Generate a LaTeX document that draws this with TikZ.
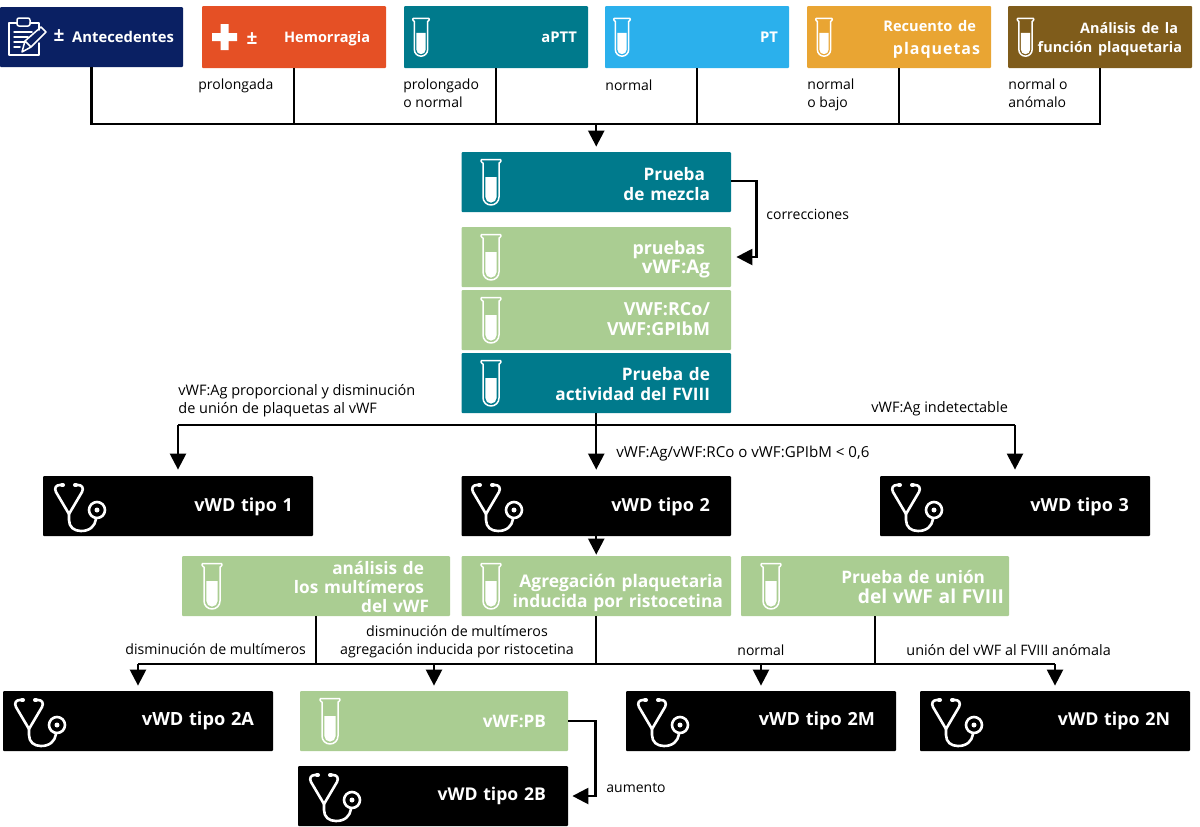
\documentclass[tikz,border=0pt]{standalone}
\usepackage{fontspec}
\setmainfont{Open Sans}
\usetikzlibrary{arrows.meta,calc}
\definecolor{cnavy}{HTML}{0A2063}
\definecolor{corange}{HTML}{E55025}
\definecolor{cteal}{HTML}{007A8C}
\definecolor{cblue}{HTML}{2BB0EC}
\definecolor{camber}{HTML}{E9A533}
\definecolor{cbrown}{HTML}{7F5C1B}
\definecolor{cgreen}{HTML}{AACD92}
\tikzset{
  x=0.5pt,y=-0.5pt,
  boxn/.style={rounded corners=0.5pt,text=white,align=right,inner ysep=0pt,font=\fontsize{8.6}{9.6}\selectfont\bfseries},
  lbl/.style={inner sep=0pt,text=black,align=left,font=\fontsize{7}{9}\selectfont},
  lblc/.style={inner sep=0pt,text=black,align=center,font=\fontsize{7.12}{9}\selectfont},
  conn/.style={draw=black,line width=1.2pt},
  arr/.style={conn,-{Triangle[width=8pt,length=8pt]}},
  icon/.style={draw=white,line width=0.75pt,line cap=round,line join=round},
}
\newcommand\fs[1]{\fontsize{#1}{9.6}\selectfont}
\newcommand\dn[1]{\rule{0pt}{\dimexpr0.76em+#1pt\relax}}
\newcommand\tr[1]{\rule{#1pt}{0pt}}
\newcommand\bx[8]{% name x0 y0 x1 y1 fill pad text
  \pgfmathsetlengthmacro\bw{(#4-#2)*0.5pt}
  \pgfmathsetlengthmacro\bh{(#5-#3)*0.5pt}
  \pgfmathsetlengthmacro\bp{#7*0.5pt}
  \pgfmathsetlengthmacro\tw{\bw-2*\bp}
  \node[boxn,fill=#6,inner xsep=\bp,text width=\tw,minimum height=\bh] (#1) at ({(#2+#4)/2},{(#3+#5)/2}) {#8};
}
\newcommand\tube[3]{% x y scale
  \begin{scope}[shift={(#1,#2)},scale=#3]
    \draw[icon] (-8,4) -- (-9,3.5) -- (-10,2) -- (-9.5,0.5) -- (9.5,0.5) -- (10,2) -- (9,3.5) -- (8,4)
      -- (8,38) arc[start angle=0,end angle=-180,x radius=8,y radius=-8] -- (-8,4) -- cycle;
    \fill[white] (-5.6,18) -- (5.6,18) -- (5.6,38) arc[start angle=0,end angle=-180,x radius=5.6,y radius=-5.6] -- cycle;
  \end{scope}
}
\newcommand\steth[2]{% box top-left
  \begin{scope}[shift={(#1,#2)}]
    \draw[icon,line width=1.3pt] (20,9) -- (17,9) .. controls (13,9) and (11,12) .. (13,16) -- (26,38)
      -- (39,16) .. controls (41,12) and (39,9) .. (35,9) -- (32,9);
    \draw[icon,line width=2pt] (19,9) -- (20,9) (32,9) -- (33,9);
    \draw[icon,line width=1.3pt] (26,38) -- (26,44) .. controls (26,51) and (31,55) .. (38,55)
      .. controls (47,55) and (52,50) .. (53,43);
    \draw[icon,line width=1.3pt] (54,34) circle[radius=8];
    \fill[white] (54,34) circle[radius=2.5];
  \end{scope}
}
\begin{document}
\begin{tikzpicture}
\useasboundingbox (0,0) rectangle (1200,826);
% top row
\bx{ante}{0}{7}{183}{67}{cnavy}{9}{\fs{7.4}Antecedentes}
\bx{hemo}{202}{6}{386}{68}{corange}{16}{\fs{7.25}\dn{2}Hemorragia}
\bx{aptt}{404}{6}{588}{68}{cteal}{11}{\fs{7.4}aPTT}
\bx{pt}{605}{6}{789}{68}{cblue}{11}{\fs{7.4}PT}
\bx{rec}{807}{6}{991}{68}{camber}{11}{\fs{7.3}\dn{2.5}Recuento de\tr{2}\\[2.2pt]\fs{8}\addfontfeature{LetterSpace=6}plaquetas}
\bx{ana}{1008}{6}{1192}{68}{cbrown}{10}{\fs{7.2}\dn{2}Análisis de la\tr{2}\\función plaquetaria}
% centre column
\bx{mez}{461.5}{152}{731}{212}{cteal}{21}{\dn{2}Prueba\tr{2.5}\\de mezcla}
\bx{ag}{461.5}{227}{731}{287}{cgreen}{21}{\fs{8.9}\dn{2.5}pruebas\tr{2.5}\\\fs{9.4}vWF:Ag}
\bx{rco}{461.5}{290}{731}{350}{cgreen}{21}{\fs{9}VWF:RCo/\\VWF:GPIbM\rule[-1pt]{0pt}{1pt}}
\bx{fv}{461.5}{353}{731}{413}{cteal}{21}{\dn{1}Prueba de\\actividad del FVIII}
% vWD row
\bx{v1}{43}{476}{313}{536}{black}{20}{\fs{9}\dn{1}vWD tipo 1}
\bx{v2}{461.5}{476}{731}{536}{black}{21}{\fs{9}\dn{1}vWD tipo 2}
\bx{v3}{880}{476}{1150}{536}{black}{21}{\fs{9}\dn{1}vWD tipo 3}
% tests row
\bx{mul}{182}{556}{450}{616}{cgreen}{21}{\dn{1}análisis de\tr{2.5}\\[-0.3pt]los multímeros\tr{2.5}\\[-0.3pt]del vWF}
\bx{agr}{461.5}{556}{731}{616}{cgreen}{8}{\fs{8.7}\dn{7}Agregación plaquetaria\\inducida por ristocetina}
\bx{uni}{741}{556}{1009}{616}{cgreen}{5}{\fs{8.6}\dn{1}Prueba de unión\tr{9.5}\\\fs{9.6}del vWF al FVIII}
% last row
\bx{a2}{3}{691}{273}{751}{black}{19}{\fs{9.1}vWD tipo 2A}
\bx{pb}{300}{691}{568}{751}{cgreen}{22}{vWF:PB}
\bx{m2}{626}{691}{896}{751}{black}{21}{\fs{9.05}vWD tipo 2M}
\bx{n2}{920}{691}{1190}{751}{black}{20}{\fs{8.9}vWD tipo 2N}
\bx{b2}{298}{766}{568}{826}{black}{22}{\fs{8.8}vWD tipo 2B}
% icons
\tube{421}{18}{0.83}\tube{622}{18}{0.83}\tube{824}{18}{0.83}\tube{1025.5}{18}{0.83}
\tube{491}{159}{1}\tube{491}{234}{1}\tube{491}{297}{1}\tube{491}{360}{1}
\tube{212}{563}{1}\tube{491}{563}{1}\tube{771}{563}{1}\tube{330}{698}{1}
\steth{43}{476}\steth{460}{476}\steth{880}{476}\steth{3}{691}\steth{626}{691}\steth{920}{691}\steth{298}{766}
% clipboard icon
\draw[icon] (39,30) -- (39,23) -- (30,23) (17,23) -- (9,23) -- (9,55) -- (39,55) -- (39,43);
\draw[icon,rounded corners=1pt] (17,18) rectangle (30,26);
\draw[icon] (14,32) -- (32,32) (14,37) -- (28,37) (14,42) -- (24,42) (14,47) -- (20,47);
\draw[icon] (22,52) -- (25,41) -- (41,27) -- (46,32) -- (31,47) -- cycle (25,41) -- (31,47);
% plus icon
\fill[white] (220.5,24) rectangle (228.5,50) (212,33) rectangle (237,41);
\node[inner sep=0pt,text=white,font=\fontsize{9.5}{10}\selectfont\bfseries] (pm1) at (59,35.5) {±};
\node[inner sep=0pt,text=white,font=\fontsize{9.5}{10}\selectfont\bfseries] (pm2) at (252,38.5) {±};
% top connectors
\coordinate (bus) at (596.25,124);
\draw[conn] (ante.south) |- (bus);
\draw[conn] (hemo.south) |- (bus);
\draw[conn] (aptt.south) |- (bus);
\draw[conn] (pt.south) |- (bus);
\draw[conn] (rec.south) |- (bus);
\draw[conn] (ana.south) |- (bus);
\draw[arr,shorten >=2.5pt] (bus) -- (mez.north);
% corrections
\draw[arr,shorten >=2.5pt] ([yshift=0.5pt]mez.east) -- ++(25,0) |- (ag.east);
% activity to vWD
\coordinate (bus2) at (596.25,425);
\draw[conn] (fv.south) -- (bus2);
\draw[conn] (v1.north |- bus2) -- (v3.north |- bus2);
\draw[arr,shorten >=3pt] (bus2) -- (v2.north);
\draw[arr,shorten >=3pt] (v1.north |- bus2) -- (v1.north);
\draw[arr,shorten >=3pt] (v3.north |- bus2) -- (v3.north);
\draw[arr,shorten >=0.5pt] (v2.south) -- (agr.north);
% lower bus
\coordinate (bus3) at (596.25,664);
\draw[conn] (mul.south) -- (mul.south |- bus3);
\draw[conn] (agr.south) -- (bus3);
\draw[conn] (uni.south) -- (uni.south |- bus3);
\draw[conn] (a2.north |- bus3) -- (n2.north |- bus3);
\draw[arr,shorten >=2.5pt] (a2.north |- bus3) -- (a2.north);
\draw[arr,shorten >=2.5pt] (pb.north |- bus3) -- (pb.north);
\draw[arr,shorten >=2.5pt] (m2.north |- bus3) -- (m2.north);
\draw[arr,shorten >=2.5pt] (n2.north |- bus3) -- (n2.north);
\draw[arr,shorten >=2pt] (pb.east) -- ++(27,0) |- (b2.east);
% labels
\node[lbl,anchor=west] (l1) at (198,86) {prolongada};
\node[lbl,anchor=north west] (l2) at (403,78) {prolongado\\o normal};
\node[lbl,anchor=west] (l3) at (605,85) {normal};
\node[lbl,anchor=north west] (l4) at (807,78) {normal\\o bajo};
\node[lbl,anchor=north west] (l5) at (1008,78) {normal o\\anómalo};
\node[lbl,anchor=west] (l6) at (766,214) {correcciones};
\node[lbl,anchor=north west,font=\fontsize{7.25}{9}\selectfont] (l7) at (178,384) {vWF:Ag proporcional y disminución\\de unión de plaquetas al vWF};
\node[lbl,anchor=west,font=\fontsize{7.25}{9}\selectfont] (l8) at (871,409) {vWF:Ag indetectable};
\node[lbl,anchor=west,font=\fontsize{7.55}{9}\selectfont] (l9) at (616,454) {vWF:Ag/vWF:RCo o vWF:GPIbM < 0,6};
\node[lbl,anchor=west,font=\fontsize{7.07}{9}\selectfont] (l10) at (125,649) {disminución de multímeros};
\node[lblc] (l11) at (457,642) {disminución de multímeros\\agregación inducida por ristocetina};
\node[lbl,anchor=west] (l12) at (737,650) {normal};
\node[lbl,anchor=west,font=\fontsize{7.2}{9}\selectfont] (l13) at (906,650) {unión del vWF al FVIII anómala};
\node[lbl,anchor=west] (l14) at (606,788) {aumento};
\end{tikzpicture}
\end{document}
